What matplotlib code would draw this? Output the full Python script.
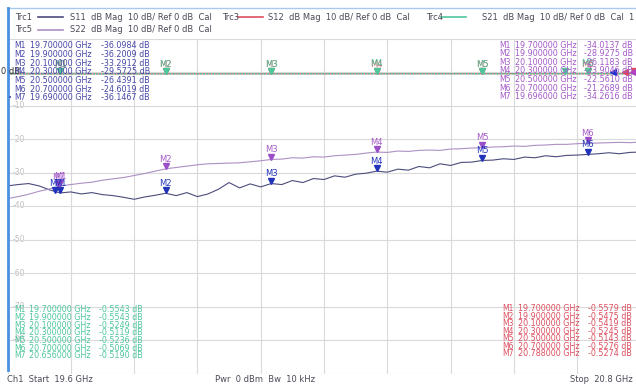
import matplotlib.pyplot as plt
import matplotlib.transforms as mtransforms
import numpy as np
from matplotlib.lines import Line2D

# sweep: 19.6 - 20.8 GHz, 61 points (0.02 GHz apart)
freq = np.linspace(19.6, 20.8, 61)

# Trc1 S11 (lower, noisy trace)
s11 = [-34.0, -33.6, -33.3, -34.0, -35.2, -36.1, -35.8, -36.4, -36.0, -36.6,
       -36.9, -37.4, -38.0, -37.3, -36.8, -36.2, -36.9, -36.0, -37.2, -36.4,
       -35.0, -33.0, -34.6, -33.4, -34.3, -33.3, -33.6, -32.4, -33.0, -31.8,
       -32.1, -31.0, -31.4, -30.5, -30.2, -29.6, -29.9, -29.0, -29.3, -28.2,
       -28.6, -27.4, -27.9, -27.0, -26.9, -26.4, -26.3, -25.9, -26.1, -25.4,
       -25.6, -25.0, -25.3, -24.9, -24.8, -24.6, -24.4, -24.1, -24.4, -24.0,
       -23.9]

# Trc5 S22 (upper, smoother trace)
s22 = [-37.8, -37.2, -36.5, -35.6, -34.9, -34.0, -33.6, -33.2, -32.9, -32.3,
       -31.9, -31.5, -30.9, -30.3, -29.6, -28.9, -28.5, -28.1, -27.7, -27.4,
       -27.3, -27.2, -27.1, -26.8, -26.5, -26.1, -26.0, -25.6, -25.7, -25.3,
       -25.4, -25.0, -24.8, -24.6, -24.2, -23.9, -24.0, -23.6, -23.7, -23.4,
       -23.3, -23.4, -23.0, -22.9, -22.7, -22.6, -22.4, -22.3, -22.1, -22.2,
       -21.9, -21.8, -21.6, -21.6, -21.4, -21.3, -21.2, -21.1, -21.0, -21.1,
       -20.9]

# marker readouts
mk_names = ['M1', 'M2', 'M3', 'M4', 'M5', 'M6', 'M7']
s11_mf = [19.7, 19.9, 20.1, 20.3, 20.5, 20.7, 19.69]
s11_mv = [-36.0984, -36.2009, -33.2912, -29.5725, -26.4391, -24.6019, -36.1467]
s22_mf = [19.7, 19.9, 20.1, 20.3, 20.5, 20.7, 19.696]
s22_mv = [-34.0137, -28.9275, -26.1183, -23.9046, -22.5610, -21.2689, -34.2616]
s21_mf = [19.7, 19.9, 20.1, 20.3, 20.5, 20.7, 20.656]
s21_mv = [-0.5543, -0.5543, -0.5249, -0.5119, -0.5236, -0.5069, -0.5190]
s12_mf = [19.7, 19.9, 20.1, 20.3, 20.5, 20.7, 20.788]
s12_mv = [-0.5579, -0.5475, -0.5419, -0.5245, -0.5143, -0.5276, -0.5274]

# near 0 dB traces (marker values plus the sweep ends)
s21_f = [19.6, 19.7, 19.9, 20.1, 20.3, 20.5, 20.656, 20.7, 20.8]
s21_v = [-0.56, -0.5543, -0.5543, -0.5249, -0.5119, -0.5236, -0.5190, -0.5069, -0.51]
s12_f = [19.6, 19.7, 19.9, 20.1, 20.3, 20.5, 20.7, 20.788, 20.8]
s12_v = [-0.56, -0.5579, -0.5475, -0.5419, -0.5245, -0.5143, -0.5276, -0.5274, -0.53]

c11_line, c11_mk, c11_txt = '#4c4c7c', '#2233bb', '#4646a8'
c22_line, c22_mk, c22_txt = '#ad90c4', '#9a4fc8', '#a45ac8'
c21 = '#4fc79c'
c12 = '#dc5060'
grey_txt = '#4a4a58'

W, H = 636, 388
fig = plt.figure(figsize=(6.36, 3.88), dpi=100)
ax = fig.add_axes([7.5 / W, (H - 373.5) / H, 633 / W, 335 / H])

ax.set_xlim(19.6, 20.8)
ax.set_ylim(-90, 10)
ax.set_xticks(np.linspace(19.6, 20.8, 11))
ax.set_yticks(range(-90, 11, 10))
ax.grid(color='#dadada', lw=0.8)
ax.tick_params(length=0, labelbottom=False, labelleft=False)
for sp in ax.spines.values():
    sp.set_visible(False)

# y labels sit inside the grid
for v in range(-10, -90, -10):
    ax.text(19.622, v, str(v), ha='center', va='center', fontsize=5.5, color='#bdbdbd',
            bbox=dict(fc='white', ec='none', pad=0.4), zorder=1.5)

ax.plot(freq, s11, color=c11_line, lw=0.8, zorder=2)
ax.plot(freq, s22, color=c22_line, lw=0.8, zorder=2)
ax.plot(s12_f, s12_v, color=c12, lw=0.8, zorder=2)
ax.plot(s21_f, s21_v, color=c21, lw=1.1, ls=(0, (1.2, 0.8)), zorder=2.5)

tri = mtransforms.offset_copy(ax.transData, fig=fig, y=2, units='points')


def draw_markers(mf, mv, mcol, tcol, show=6):
    ax.plot(mf, mv, 'v', ms=4, color=mcol, transform=tri, zorder=4)
    for f, v, n in list(zip(mf, mv, mk_names))[:show]:
        ax.annotate(n, (f, v), xytext=(0, 7), textcoords='offset points', ha='center',
                    va='center', fontsize=6, color=tcol, zorder=4)


draw_markers(s12_mf, s12_mv, c12, c12)
draw_markers(s21_mf, s21_mv, c21, c21)
draw_markers(s22_mf, s22_mv, c22_mk, c22_txt, show=7)
draw_markers(s11_mf, s11_mv, c11_mk, c11_mk, show=7)


def ftext(x, y, s, **kw):
    kw.setdefault('fontsize', 6)
    kw.setdefault('color', grey_txt)
    fig.text(x / W, 1 - y / H, s, va='center', **kw)


def fline(x0, x1, y, color, lw=1.2):
    fig.add_artist(Line2D([x0 / W, x1 / W], [1 - y / H, 1 - y / H], color=color, lw=lw,
                          transform=fig.transFigure))


# frame bits
fline(7, 636, 8, '#a8c8ec', lw=1.0)
fig.add_artist(Line2D([7.5 / W, 7.5 / W], [1 - 8 / H, 1 - 370 / H], color='#4a90e2', lw=2,
                      transform=fig.transFigure))

# header
hdr = '  dB Mag  10 dB/ Ref 0 dB  Cal'
ftext(15, 17, 'Trc1'); fline(38, 63, 17, c11_line); ftext(70, 17, 'S11' + hdr)
ftext(222, 17, 'Trc3'); fline(238, 263, 17, c12); ftext(268, 17, 'S12' + hdr)
ftext(426, 17, 'Trc4'); fline(441, 466, 17, c21); ftext(482, 17, 'S21' + hdr)
ftext(628, 17, '1')
ftext(15, 30, 'Trc5'); fline(38, 63, 30, c22_line); ftext(70, 30, 'S22' + hdr)

ftext(1, 72, '0 dB', color='#333333')


def table(x, y0, dy, mf, mv, color):
    for i, (n, f, v) in enumerate(zip(mk_names, mf, mv)):
        y = y0 + dy * i
        ftext(x[0], y, n, color=color, fontsize=5.5)
        ftext(x[1], y, f'{f:.6f} GHz', color=color, fontsize=5.8)
        ftext(x[2], y, f'{v:.4f} dB', color=color, fontsize=5.8)


table((14, 30, 101), 46, 8.65, s11_mf, s11_mv, c11_txt)
ftext(8, 46 + 8.65 * 6, '•', color=c11_txt, fontsize=5)
table((499, 515, 584), 45, 8.65, s22_mf, s22_mv, c22_txt)
table((14, 29, 99), 310, 7.65, s21_mf, s21_mv, c21)
table((502, 518, 588), 308.5, 7.55, s12_mf, s12_mv, c12)

# reference arrows at the right edge
for x, col in [(613, '#2030d0'), (625, '#d84060'), (633, '#b040c8')]:
    fig.add_artist(Line2D([x / W], [1 - 72 / H], marker='<', ms=5, color=col, lw=0,
                          transform=fig.transFigure))

# footer
ftext(7, 380, 'Ch1  Start  19.6 GHz')
ftext(215, 380, 'Pwr  0 dBm  Bw  10 kHz')
ftext(633, 380, 'Stop  20.8 GHz', ha='right')

fig.savefig('out.png', dpi=100)
